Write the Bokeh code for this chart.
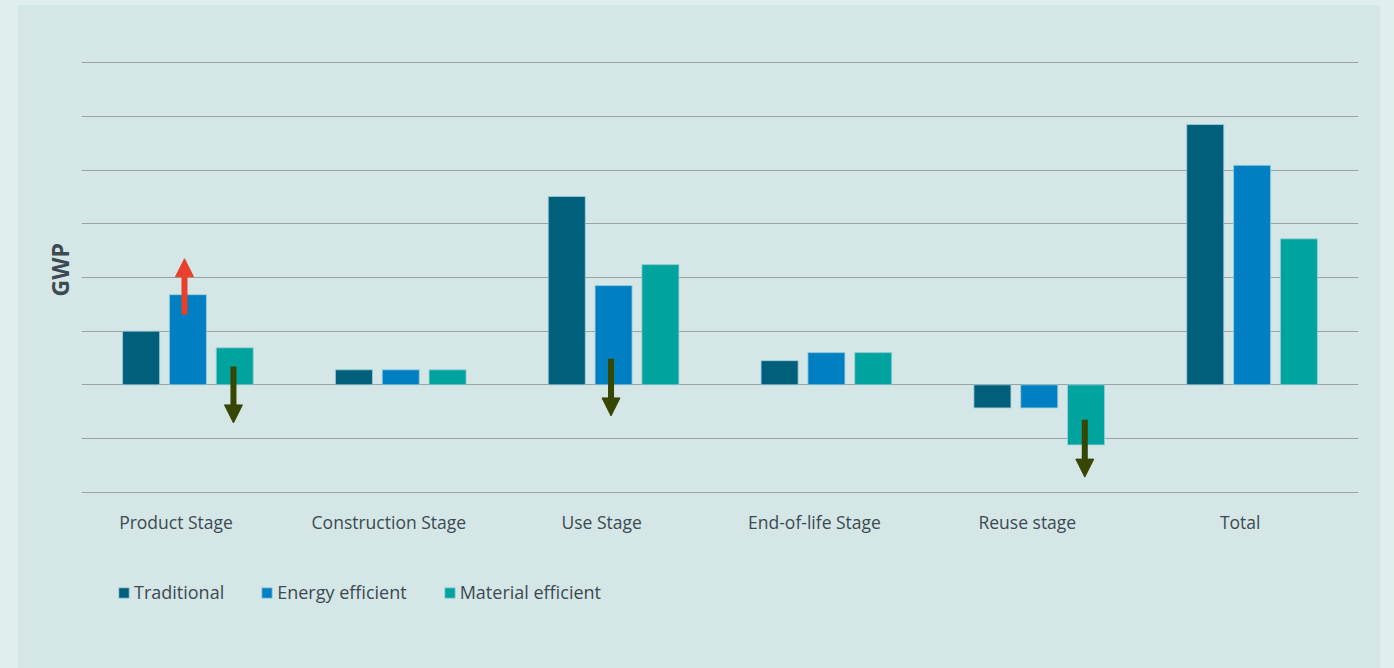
from bokeh.plotting import figure
from bokeh.models import FixedTicker, Arrow, NormalHead, Legend, LegendItem, ColumnDataSource, Title
from bokeh.layouts import column
from bokeh.embed import file_html
from bokeh.resources import INLINE

categories = ["Product Stage", "Construction Stage", "Use Stage",
              "End-of-life Stage", "Reuse stage", "Total"]
traditional = [1.0, 0.28, 3.51, 0.45, -0.43, 4.85]
energy_eff = [1.68, 0.28, 1.85, 0.60, -0.43, 4.09]
material_eff = [0.69, 0.28, 2.24, 0.60, -1.12, 2.72]
series_names = ["Traditional", "Energy efficient", "Material efficient"]
y_ticks = [-2, -1, 0, 1, 2, 3, 4, 5, 6]

# arrows: category index, offset within group, start, end
arrow_cat = [0, 0, 2, 4]
arrow_off = [-0.016, 0.214, -0.012, 0.214]
arrow_start = [1.31, 0.34, 0.485, -0.65]
arrow_end = [2.35, -0.71, -0.58, -1.72]
arrow_colors = ["#e8402a", "#374600", "#374600", "#374600"]

panel = "#d5e6e6"
outer = "#e1eeee"
text_color = "#3c4a52"
grid_color = "#9ba2a3"
colors = ["#005f7b", "#0080c2", "#00a39e"]
font = "Open Sans"

p = figure(width=1362, height=555, x_range=(0, 6), y_range=(-2.1, 6.1),
           output_backend="svg", toolbar_location=None,
           min_border_left=63, min_border_right=22, min_border_top=52,
           min_border_bottom=63,
           background_fill_color=panel, border_fill_color=panel,
           outline_line_color=None)

offsets = [-0.22, 0.0, 0.22]
renderers = []
for vals, off, col in zip([traditional, energy_eff, material_eff], offsets, colors):
    src = ColumnDataSource(dict(x=[i + 0.5 + off for i in range(len(categories))], top=vals))
    r = p.vbar(x="x", top="top", bottom=0, width=0.174, source=src,
               fill_color=col, line_color="#9fd0dc", line_width=1, line_alpha=0.8)
    renderers.append(r)

for c, o, s, e, col in zip(arrow_cat, arrow_off, arrow_start, arrow_end, arrow_colors):
    x = c + 0.5 + o
    p.add_layout(Arrow(end=NormalHead(size=18, fill_color=col, line_color=col),
                       x_start=x, y_start=s, x_end=x, y_end=e,
                       line_color=col, line_width=6))

# grid
p.xgrid.visible = False
p.ygrid.ticker = FixedTicker(ticks=y_ticks)
p.ygrid.grid_line_color = grid_color
p.ygrid.grid_line_width = 1.2

# x axis with labels slightly shifted left of group center
label_pos = [round(i + 0.444, 3) for i in range(len(categories))]
p.xaxis.ticker = FixedTicker(ticks=label_pos)
p.xaxis.major_label_overrides = {t: n for t, n in zip(label_pos, categories)}
p.xaxis.axis_line_color = None
p.xaxis.major_tick_line_color = None
p.xaxis.minor_tick_line_color = None
p.xaxis.major_tick_out = 0
p.xaxis.major_label_standoff = 12
p.xaxis.major_label_text_font = font
p.xaxis.major_label_text_font_size = "17.5px"
p.xaxis.major_label_text_color = text_color

p.yaxis.visible = False
p.add_layout(Title(text="GWP", align="left", offset=201, standoff=12,
                   text_font=font, text_font_style="bold", text_font_size="23px",
                   text_color=text_color), "left")

# legend in its own strip below
p2 = figure(width=1362, height=108, x_range=(0, 1), y_range=(0, 1),
            output_backend="svg", toolbar_location=None,
            min_border=0, background_fill_color=panel, border_fill_color=panel,
            outline_line_color=None)
p2.axis.visible = False
p2.grid.visible = False
leg_r = [p2.vbar(x=[-10], top=[-10], bottom=-11, width=0.1, fill_color=c,
                 line_color="#9fd0dc", line_width=1, line_alpha=0.8) for c in colors]
legend = Legend(items=[LegendItem(label=n, renderers=[r]) for n, r in zip(series_names, leg_r)],
                orientation="horizontal", location=(36, 64),
                glyph_width=13, glyph_height=13, label_standoff=4, spacing=36,
                label_text_font=font, label_text_font_size="18px",
                label_text_color=text_color, background_fill_alpha=0,
                border_line_color=None, padding=0, margin=0)
p2.add_layout(legend)

inner = column(p, p2, spacing=0, styles={"background-color": panel})
inner.margin = (5, 14, 0, 18)
layout = column(inner, styles={"background-color": outer})
open("out.html", "w").write(file_html(layout, INLINE))
